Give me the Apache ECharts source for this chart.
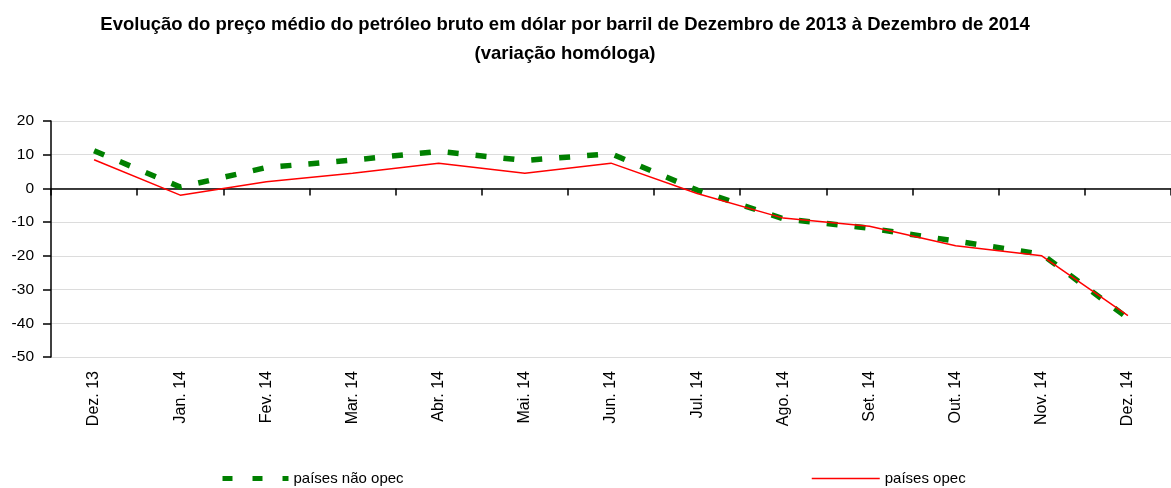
<!DOCTYPE html>
<html>
<head>
<meta charset="utf-8">
<script src="https://cdn.jsdelivr.net/npm/echarts@6/dist/echarts.min.js"></script>
<style>
  html, body { margin: 0; padding: 0; background: #fff; }
  #chart { width: 1171px; height: 488px; }
</style>
</head>
<body>
<div id="chart"></div>
<script>
var months = ['Dez. 13', 'Jan. 14', 'Fev. 14', 'Mar. 14', 'Abr. 14', 'Mai. 14', 'Jun. 14',
    'Jul. 14', 'Ago. 14', 'Set. 14', 'Out. 14', 'Nov. 14', 'Dez. 14'];
var naoOpec = [11.2, 0.4, 6.2, 8.4, 11.0, 8.3, 10.3, -0.5, -9.0, -11.8, -15.6, -19.5, -38.5];
var opec = [8.5, -2.0, 2.0, 4.5, 7.5, 4.5, 7.5, -1.5, -8.8, -11.2, -17.0, -20.0, -37.7];

var chart = echarts.init(document.getElementById('chart'));
var font = '"Liberation Sans", Arial, sans-serif';

var option = {
    backgroundColor: '#ffffff',
    animation: false,
    title: {
        text: 'Evolução do preço médio do petróleo bruto em dólar por barril de Dezembro de 2013 à Dezembro de 2014\n(variação homóloga)',
        left: 565,
        top: 10,
        padding: 0,
        textAlign: 'center',
        textStyle: {
            fontFamily: font,
            fontWeight: 'bold',
            fontSize: 18.5,
            lineHeight: 29,
            color: '#000'
        }
    },
    legend: [{
        left: 220,
        top: 471,
        padding: 0,
        itemWidth: 66,
        itemHeight: 14,
        itemGap: 4,
        itemStyle: { opacity: 0 },
        lineStyle: { width: 5, type: [10, 20] },
        textStyle: { fontFamily: font, fontSize: 15, color: '#000' },
        data: ['países não opec']
    }, {
        left: 811,
        top: 471,
        padding: 0,
        itemWidth: 68,
        itemHeight: 14,
        itemGap: 4,
        itemStyle: { opacity: 0 },
        lineStyle: { width: 1.5 },
        textStyle: { fontFamily: font, fontSize: 15, color: '#000' },
        data: ['países opec']
    }],
    grid: {
        left: 51,
        right: 0,
        top: 121,
        bottom: 131
    },
    xAxis: [{
        type: 'category',
        data: months,
        position: 'bottom',
        axisLine: { show: false, onZero: false },
        axisTick: { show: false },
        axisLabel: {
            rotate: 90,
            margin: 14,
            fontFamily: font,
            fontSize: 16,
            color: '#000'
        }
    }, {
        type: 'category',
        data: months,
        position: 'bottom',
        axisLine: { onZero: true, lineStyle: { color: '#000', width: 1.5 } },
        axisTick: { show: true, length: 7, lineStyle: { color: '#000', width: 1.5 } },
        axisLabel: { show: false }
    }],
    yAxis: {
        type: 'value',
        min: -50,
        max: 20,
        interval: 10,
        axisLine: { show: true, onZero: false, lineStyle: { color: '#000', width: 1.5 } },
        axisTick: { show: true, length: 8, lineStyle: { color: '#000', width: 1.5 } },
        axisLabel: { fontFamily: font, fontSize: 15.5, color: '#000', margin: 17 },
        splitLine: { show: true, lineStyle: { color: '#dcdcdc', width: 1 } }
    },
    series: [{
        name: 'países não opec',
        type: 'line',
        xAxisIndex: 0,
        symbol: 'none',
        lineStyle: { color: '#008000', width: 5.5, type: [11, 17] },
        itemStyle: { color: '#008000' },
        data: naoOpec
    }, {
        name: 'países opec',
        type: 'line',
        xAxisIndex: 0,
        symbol: 'none',
        lineStyle: { color: '#ff0000', width: 1.5 },
        itemStyle: { color: '#ff0000' },
        data: opec,
        z: 3
    }]
};
chart.setOption(option);
</script>
</body>
</html>
